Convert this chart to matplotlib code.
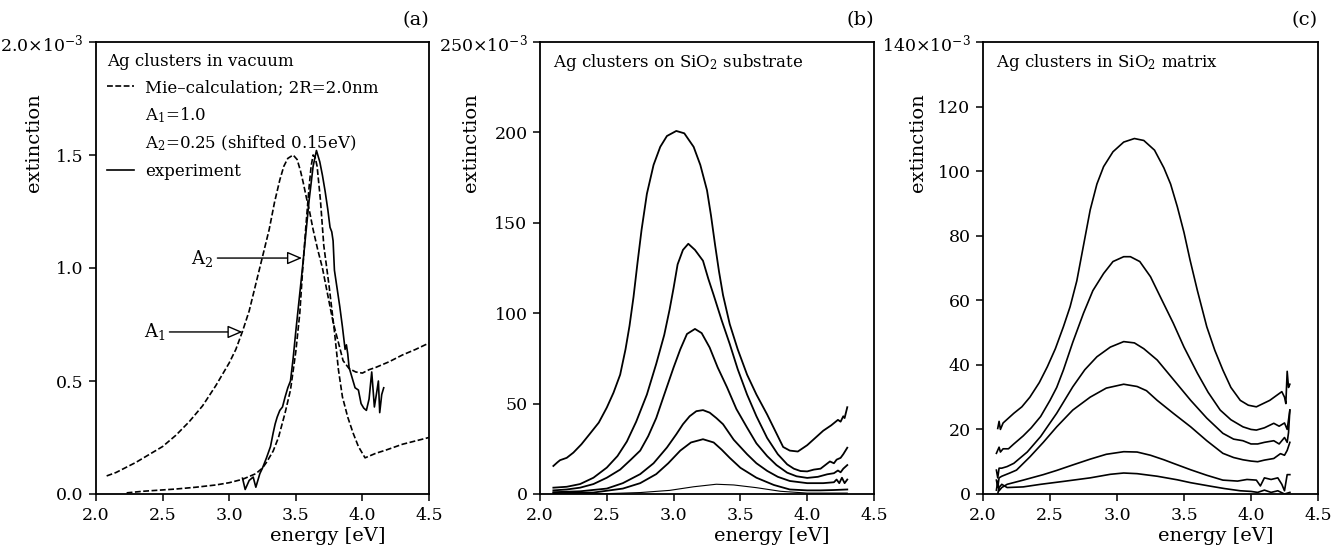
import matplotlib
matplotlib.use("Agg")
import matplotlib.pyplot as plt
from matplotlib.lines import Line2D

plt.rcParams['font.family'] = 'DejaVu Serif'
plt.rcParams['mathtext.fontset'] = 'dejavuserif'

# ---- panel (a): Ag clusters in vacuum (units of 1e-3) ----
a1_e = [2.08, 2.15, 2.2, 2.3, 2.4, 2.5, 2.6, 2.7, 2.8, 2.9, 3.0, 3.05, 3.1, 3.15, 3.2, 3.25, 3.3,
        3.34, 3.38, 3.41, 3.44, 3.48, 3.51, 3.535, 3.555, 3.58, 3.6, 3.63, 3.665, 3.70, 3.74,
        3.78, 3.82, 3.855, 3.9, 3.95, 4.0, 4.05, 4.1, 4.2, 4.3, 4.4, 4.5]
a1_y = [0.08, 0.095, 0.11, 0.14, 0.175, 0.21, 0.26, 0.32, 0.39, 0.48, 0.58, 0.64, 0.72, 0.81, 0.93,
        1.05, 1.17, 1.29, 1.39, 1.45, 1.485, 1.50, 1.48, 1.43, 1.38, 1.31, 1.26, 1.17, 1.08, 1.00,
        0.88, 0.76, 0.67, 0.59, 0.555, 0.54, 0.535, 0.55, 0.56, 0.585, 0.615, 0.64, 0.668]

a2_e = [2.23, 2.35, 2.5, 2.6, 2.75, 2.9, 3.0, 3.1, 3.2, 3.25, 3.28, 3.33, 3.37, 3.42, 3.46, 3.5,
        3.53, 3.55, 3.575, 3.6, 3.615, 3.63, 3.645, 3.66, 3.685, 3.71, 3.75, 3.79, 3.82, 3.85,
        3.89, 3.93, 3.97, 4.02, 4.1, 4.18, 4.3, 4.4, 4.5]
a2_y = [0.005, 0.012, 0.018, 0.022, 0.03, 0.04, 0.05, 0.065, 0.09, 0.115, 0.14, 0.19, 0.25, 0.36,
        0.46, 0.63, 0.80, 0.98, 1.18, 1.36, 1.45, 1.50, 1.49, 1.45, 1.30, 1.10, 0.92, 0.72, 0.55,
        0.43, 0.34, 0.27, 0.21, 0.16, 0.18, 0.195, 0.22, 0.235, 0.25]

exp_e = [3.10, 3.12, 3.15, 3.18, 3.20, 3.23, 3.25, 3.28, 3.31, 3.33, 3.345, 3.36, 3.38, 3.40,
         3.42, 3.44, 3.46, 3.48, 3.5, 3.525, 3.55, 3.575, 3.6, 3.63, 3.655, 3.68, 3.70, 3.72,
         3.74, 3.757, 3.77, 3.78, 3.79, 3.81, 3.83, 3.85, 3.87, 3.88, 3.89, 3.9, 3.92, 3.945,
         3.97, 3.99, 4.01, 4.03, 4.05, 4.07, 4.09, 4.11, 4.12, 4.13, 4.145, 4.16]
exp_y = [0.07, 0.02, 0.06, 0.075, 0.03, 0.09, 0.115, 0.16, 0.21, 0.27, 0.31, 0.34, 0.37, 0.385,
         0.43, 0.47, 0.50, 0.60, 0.72, 0.86, 1.0, 1.15, 1.3, 1.45, 1.52, 1.47, 1.41, 1.34,
         1.26, 1.18, 1.16, 1.12, 0.99, 0.91, 0.83, 0.74, 0.64, 0.66, 0.62, 0.56, 0.52, 0.47,
         0.46, 0.40, 0.38, 0.37, 0.42, 0.54, 0.385, 0.46, 0.50, 0.36, 0.44, 0.47]

# ---- panel (b): Ag clusters on SiO2 substrate (units of 1e-3) ----
b_e = [
    [2.10, 2.13, 2.15, 2.20, 2.25, 2.31, 2.37, 2.44, 2.50, 2.55, 2.60, 2.64, 2.67, 2.70, 2.73,
     2.76, 2.80, 2.85, 2.90, 2.95, 3.02, 3.08, 3.15, 3.20, 3.25, 3.28, 3.31, 3.34, 3.37, 3.42,
     3.48, 3.55, 3.62, 3.70, 3.76, 3.82, 3.87, 3.93, 3.96, 4.00, 4.06, 4.12, 4.18, 4.23, 4.25,
     4.27, 4.28, 4.30],
    [2.10, 2.20, 2.30, 2.40, 2.50, 2.58, 2.65, 2.72, 2.80, 2.87, 2.93, 2.97, 3.00, 3.03, 3.07,
     3.11, 3.16, 3.22, 3.26, 3.30, 3.36, 3.42, 3.48, 3.55, 3.62, 3.70, 3.78, 3.85, 3.90, 3.95,
     4.00, 4.05, 4.10, 4.17, 4.20, 4.22, 4.25, 4.27, 4.30],
    [2.10, 2.20, 2.30, 2.40, 2.50, 2.60, 2.68, 2.75, 2.81, 2.87, 2.93, 3.00, 3.05, 3.10, 3.16,
     3.21, 3.27, 3.33, 3.40, 3.47, 3.55, 3.62, 3.70, 3.77, 3.85, 3.92, 4.00, 4.08, 4.15, 4.20,
     4.23, 4.25, 4.27, 4.30],
    [2.10, 2.30, 2.50, 2.62, 2.75, 2.85, 2.95, 3.02, 3.07, 3.12, 3.17, 3.22, 3.27, 3.32, 3.37,
     3.45, 3.55, 3.62, 3.70, 3.78, 3.87, 4.00, 4.12, 4.20, 4.22, 4.24, 4.26, 4.28, 4.30],
    [2.10, 2.40, 2.62, 2.75, 2.87, 2.96, 3.05, 3.13, 3.22, 3.30, 3.36, 3.42, 3.50, 3.62, 3.75,
     3.87, 4.00, 4.10, 4.20, 4.30],
    [2.10, 2.50, 2.75, 2.97, 3.15, 3.32, 3.45, 3.62, 3.80, 4.00, 4.30],
]
b_y = [
    [15.5, 17.5, 18.7, 20, 22.9, 27.5, 33, 39.5, 47.8, 56, 66, 80, 93, 109, 128,
     146, 166, 182, 192, 198, 200.8, 199.5, 192, 182, 168, 154, 138, 123, 110, 94,
     80, 66, 55, 44, 35, 26, 24, 23.5, 25, 27, 31, 35, 38, 41, 40,
     43, 42, 48],
    [3.5, 4, 5.5, 9, 14.6, 21, 29, 40, 55, 72, 88, 102, 114, 127, 135,
     138.4, 135, 129, 119, 110, 96, 83, 69, 55, 43, 31, 22, 16.4, 14, 12.7,
     12.5, 13.5, 14, 18, 17, 19, 20, 22, 25.6],
    [2, 2.5, 3.5, 5.5, 9, 13.5, 19, 24, 32, 42, 55, 70, 80, 88.5, 91.3,
     89, 81, 70, 59, 47, 36.7, 28, 21, 16, 11.8, 9.8, 8.9, 9.5, 10.9, 11.5,
     13, 12, 14, 16],
    [1, 1.5, 3, 6, 11, 17, 25.7, 33, 38.6, 43, 45.8, 46.4, 45, 42, 38.6,
     30, 22, 17, 12.8, 9.5, 7.2, 6, 6, 6.5, 8, 6, 9, 6, 8],
    [0.5, 0.8, 3, 6, 11, 17, 24, 28.5, 30.3, 28.5, 24.5, 20, 14.5, 9, 5,
     2.5, 2, 2, 2.2, 2.5],
    [0, 0.2, 0.8, 2, 4, 5.4, 5, 3.5, 1.5, 0.5, 0.5],
]

# ---- panel (c): Ag clusters in SiO2 matrix (units of 1e-3) ----
c_e = [
    [2.11, 2.12, 2.13, 2.15, 2.19, 2.23, 2.29, 2.35, 2.42, 2.48, 2.54, 2.60, 2.65, 2.70, 2.75,
     2.80, 2.85, 2.90, 2.97, 3.05, 3.13, 3.20, 3.28, 3.35, 3.40, 3.45, 3.50, 3.545, 3.60, 3.67,
     3.73, 3.79, 3.85, 3.92, 3.98, 4.04, 4.09, 4.14, 4.19, 4.23, 4.25, 4.26, 4.27, 4.28, 4.29],
    [2.10, 2.12, 2.13, 2.15, 2.19, 2.23, 2.30, 2.36, 2.43, 2.50, 2.55, 2.60, 2.67, 2.75, 2.82,
     2.90, 2.97, 3.05, 3.10, 3.17, 3.25, 3.33, 3.42, 3.50, 3.60, 3.68, 3.77, 3.85, 3.94, 4.00,
     4.04, 4.10, 4.17, 4.21, 4.25, 4.27, 4.28, 4.29],
    [2.10, 2.11, 2.12, 2.14, 2.18, 2.23, 2.33, 2.43, 2.55, 2.67, 2.76, 2.85, 2.95, 3.05, 3.13,
     3.20, 3.30, 3.42, 3.55, 3.67, 3.79, 3.87, 3.94, 4.00, 4.05, 4.10, 4.17, 4.21, 4.25, 4.27,
     4.28, 4.29],
    [2.10, 2.11, 2.12, 2.14, 2.20, 2.25, 2.35, 2.45, 2.55, 2.67, 2.80, 2.92, 3.05, 3.15, 3.22,
     3.30, 3.42, 3.55, 3.67, 3.79, 3.87, 3.94, 4.00, 4.05, 4.10, 4.17, 4.22, 4.25, 4.27, 4.29],
    [2.10, 2.11, 2.12, 2.14, 2.18, 2.30, 2.45, 2.55, 2.67, 2.80, 2.92, 3.05, 3.15, 3.25, 3.35,
     3.42, 3.55, 3.67, 3.79, 3.90, 3.97, 4.04, 4.07, 4.10, 4.15, 4.20, 4.23, 4.25, 4.27, 4.29],
    [2.11, 2.12, 2.14, 2.18, 2.30, 2.43, 2.60, 2.80, 2.95, 3.05, 3.15, 3.30, 3.45, 3.55, 3.70,
     3.80, 3.92, 4.00, 4.05, 4.10, 4.15, 4.20, 4.25, 4.29],
]
c_y = [
    [20.3, 22.5, 20, 22, 23.5, 25, 27, 30, 34.5, 39.4, 45, 51.8, 58, 66, 77,
     88, 96, 101.4, 106, 109, 110.1, 109.5, 106.5, 101, 96, 89, 81, 72.5, 63, 51.8,
     44.5, 38.4, 33, 29, 27.5, 27, 28, 29, 30.5, 31.7, 30, 28, 38, 33, 34],
    [12.6, 14.5, 13, 14, 14, 15.5, 18, 20.5, 24, 29, 33, 38.4, 47, 56, 63,
     68.3, 72, 73.5, 73.5, 72, 67.3, 60.5, 52.9, 45.5, 37.4, 31.5, 26, 23, 20.8, 20,
     19.8, 20.5, 21.9, 21, 22, 20, 23, 26],
    [7.4, 5, 8, 8, 8.5, 9.5, 13, 17.8, 25, 33.2, 38.5, 42.5, 45.5, 47.2, 46.8,
     45, 41.5, 35.5, 29, 23.5, 18.8, 17, 16.5, 15.5, 15.5, 16, 16.5, 15.5, 17.5, 16,
     19, 26],
    [4.3, 2, 5, 5.5, 6.5, 7.4, 11.5, 16, 20.8, 26, 30, 32.8, 34, 33.3, 32,
     29, 25, 20.8, 16.5, 12.6, 11.3, 10.6, 10.2, 10, 10.5, 11, 12.5, 12, 13.5, 16],
    [1.2, 4, 1, 2, 3, 4.3, 6, 7.3, 9, 10.8, 12.3, 13.1, 13, 12, 10.6,
     9.5, 7.5, 5.8, 4.3, 4, 4.5, 4.3, 2.5, 5, 4.5, 5, 3, 1, 6, 6],
    [0, 2, 3, 2, 2.2, 3, 3.9, 5, 6.1, 6.5, 6.3, 5.5, 4.4, 3.5, 2.4,
     1.7, 1, 0.8, 0.5, 1.2, 0.5, 1, 0, 0.5],
]

x_ticks = [2.0, 2.5, 3.0, 3.5, 4.0, 4.5]
a_yticks = [0.0, 0.5, 1.0, 1.5, 2.0]
a_ylabels = ['0.0', '0.5', '1.0', '1.5', '2.0×10$^{-3}$']
b_yticks = [0, 50, 100, 150, 200, 250]
b_ylabels = ['0', '50', '100', '150', '200', '250×10$^{-3}$']
c_yticks = [0, 20, 40, 60, 80, 100, 120, 140]
c_ylabels = ['0', '20', '40', '60', '80', '100', '120', '140×10$^{-3}$']

W, H = 1341, 548
fig = plt.figure(figsize=(W / 100, H / 100), dpi=100)


def make_ax(left, right, yticks, ylabels, tag, ylab_x):
    top, bottom = 42, 494
    ax = fig.add_axes([left / W, (H - bottom) / H, (right - left) / W, (bottom - top) / H])
    ax.set_xlim(2.0, 4.5)
    ax.set_ylim(yticks[0], yticks[-1])
    ax.set_xticks(x_ticks)
    ax.set_xticklabels([f'{t:.1f}' for t in x_ticks])
    ax.set_yticks(yticks)
    ax.set_yticklabels(ylabels)
    ax.tick_params(direction='out', length=5, width=1.1, labelsize=12.5, pad=4, colors='black')
    for s in ax.spines.values():
        s.set_linewidth(1.3)
    ax.set_xlabel('energy [eV]', fontsize=14)
    ax.xaxis.set_label_coords(0.695, -0.072)
    ax.set_ylabel('extinction', fontsize=14)
    ax.yaxis.set_label_coords(ylab_x, 0.777)
    ax.text(1.0, 1.049, tag, transform=ax.transAxes, ha='right', va='center', fontsize=14)
    return ax


ax_a = make_ax(96, 429, a_yticks, a_ylabels, '(a)', -0.16)
ax_b = make_ax(540, 874, b_yticks, b_ylabels, '(b)', -0.18)
ax_c = make_ax(983, 1318, c_yticks, c_ylabels, '(c)', -0.167)

dash = (3.5, 1.5)
ax_a.plot(a1_e, a1_y, color='black', lw=1.2, dashes=dash)
ax_a.plot(a2_e, a2_y, color='black', lw=1.2, dashes=dash)
ax_a.plot(exp_e, exp_y, color='black', lw=1.2)

handles = [Line2D([], [], color='black', lw=1.2, dashes=dash),
           Line2D([], [], color='none'),
           Line2D([], [], color='none'),
           Line2D([], [], color='black', lw=1.2)]
labels = ['Mie–calculation; 2R=2.0nm', 'A$_1$=1.0', 'A$_2$=0.25 (shifted 0.15eV)', 'experiment']
leg = ax_a.legend(handles, labels, loc='upper left', frameon=False, fontsize=12,
                  title='Ag clusters in vacuum', title_fontsize=12, alignment='left',
                  handlelength=1.6, handletextpad=0.7, borderaxespad=0.0, borderpad=0.65,
                  labelspacing=0.55)

arrow = dict(arrowstyle='-|>,head_length=0.7,head_width=0.3', color='black', fc='white',
             lw=1.0, shrinkA=1, shrinkB=0)
ax_a.annotate('A$_1$', xy=(3.10, 0.717), xytext=(2.52, 0.717), ha='right', va='center',
              fontsize=13, arrowprops=arrow)
ax_a.annotate('A$_2$', xy=(3.547, 1.044), xytext=(2.88, 1.044), ha='right', va='center',
              fontsize=13, arrowprops=arrow)

for i, (e, y) in enumerate(zip(b_e, b_y)):
    ax_b.plot(e, y, color='black', lw=0.8 if i == 5 else 1.3)
ax_b.text(0.04, 0.955, 'Ag clusters on SiO$_2$ substrate', transform=ax_b.transAxes,
          ha='left', va='center', fontsize=12)

for e, y in zip(c_e, c_y):
    ax_c.plot(e, y, color='black', lw=1.2)
ax_c.text(0.04, 0.955, 'Ag clusters in SiO$_2$ matrix', transform=ax_c.transAxes,
          ha='left', va='center', fontsize=12)

fig.savefig('out.png', dpi=100)
